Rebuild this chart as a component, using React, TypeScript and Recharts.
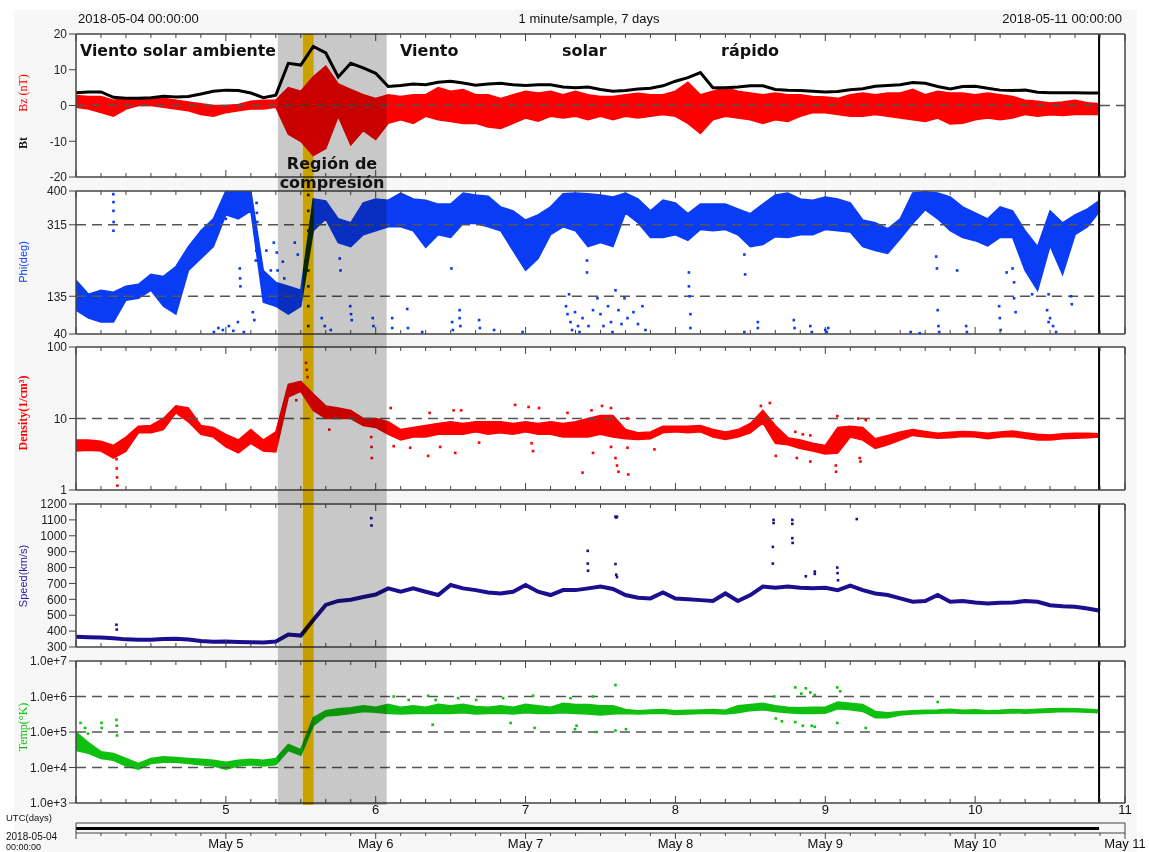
import React from "react";
import {
  Area,
  CartesianGrid,
  ComposedChart,
  Line,
  ReferenceArea,
  ReferenceLine,
  Scatter,
  XAxis,
  YAxis,
} from "recharts";

const SANS = "'Liberation Sans', Arial, sans-serif";
const SERIF = "'Liberation Serif', 'Times New Roman', serif";
const HEAVY = "'DejaVu Sans', sans-serif";
const FRAME = "#444";

const WIDTH = 1149;
const AXIS_W = 76;
const RIGHT_GAP = 24;
const PAD = 8;

// time in days of May 2018, 2-hour bins
const DAY_START = 4;
const DAY_END = 11;
const DATA_END = 10.827;
const BIN = 1 / 12;

// event boundaries
const SHOCK = 5.347;
const CIR_END = 6.073;
const GOLD_START = 5.513;
const GOLD_END = 5.587;

const btValues = [
  3.6, 3.8, 3.8, 2.3, 2.0, 2.0, 2.2, 2.6, 2.4, 2.5,
  3.2, 4.0, 4.3, 4.2, 3.5, 2.2, 2.9, 11.8, 11.3, 16.5,
  14.7, 8, 11.8, 10.5, 9, 5.3, 5.6, 6, 5.8, 6.5,
  6.8, 6.3, 5.7, 6, 6.2, 5.8, 5.6, 5.8, 5.8, 5.2,
  5.0, 5.2, 4.5, 4.0, 4.2, 4.6, 4.8, 5.5, 6.8, 7.8,
  9.2, 5.0, 5.0, 5.2, 5.5, 5.5, 4.5, 4.3, 4.2, 4.0,
  3.8, 3.9, 4.4, 4.7, 5.4, 5.6, 5.8, 6.4, 6.2, 5.3,
  4.6, 5.3, 5.4, 4.8, 4.3, 4.2, 4.3, 3.7, 3.6, 3.6,
  3.6, 3.5, 3.5,
];

const bzLow = [
  -0.5, -1, -2, -3, -1, 0, 0, -0.5, -1, -1.5,
  -2.5, -3, -2, -1.5, -1, -1, -0.5, -8, -10, -14,
  -12, -3, -11, -7, -9.5, -5, -4, -5, -3, -4,
  -4.5, -5, -5, -6, -6.4, -5, -3.5, -4.4, -3, -3.5,
  -3, -4, -3, -4, -3, -3.5, -3, -2.5, -3, -5,
  -7.8, -4, -3, -3.5, -4, -5, -4, -4.5, -3, -2,
  -2, -2.5, -3, -3, -2.5, -3, -3.5, -4, -4.5, -3.5,
  -5.2, -5, -4, -3.5, -4, -3.5, -2.5, -3, -2.6, -2.8,
  -2.5, -2.5, -2.5,
];

const bzHigh = [
  2.8, 2.5, 2.5, 1.5, 2, 2, 2, 2, 1.5, 1,
  0.5, 0, 0, 0.3, 1.2, 1.5, 1.5, 5, 4, 8,
  11, 6, 4.5, 3, 2, 3, 2.5, 3, 3, 5,
  4, 4.5, 3, 3, 2, 3, 4, 3.5, 4, 3,
  4, 3, 2.5, 2.5, 3, 3.4, 3, 3, 4, 6.5,
  3, 4, 5, 4, 3.5, 3, 3.5, 3, 3, 2.5,
  2.4, 2, 3, 3.5, 3, 3.5, 3.5, 4.5, 3, 4,
  3.5, 3.5, 3, 3.5, 3, 2.5, 1.5, 1.2, 0.7, 1,
  1.5, 0.8, 0.5,
];

const phiLow = [
  100, 80, 70, 70, 125, 130, 150, 110, 90, 200,
  230, 260, 340, 330, 350, 120, 110, 90, 110, 300,
  330, 270, 260, 290, 300, 310, 310, 300, 258, 290,
  283, 318, 318, 310, 300, 250, 200, 230, 290, 310,
  300, 260, 270, 260, 345, 320, 283, 283, 290, 276,
  303, 300, 303, 290, 260, 265, 285, 283, 290, 290,
  303, 300, 297, 260, 250, 243, 280, 318, 353, 330,
  300, 283, 275, 262, 283, 283, 200, 150, 262, 190,
  290, 310, 350,
];

const phiHigh = [
  175, 140, 150, 145, 160, 165, 190, 185, 210, 260,
  300, 330, 400, 400, 400, 200, 170, 160, 150, 380,
  375, 330, 320, 370, 380, 377, 395, 380, 377, 367,
  367, 395, 390, 387, 360, 350, 327, 340, 360, 393,
  395, 393, 390, 385, 395, 380, 350, 377, 370, 343,
  367, 367, 367, 355, 343, 367, 390, 395, 380, 377,
  385, 380, 370, 327, 320, 305, 330, 395, 398, 395,
  385, 360, 345, 330, 360, 350, 300, 260, 350, 320,
  340, 355, 377,
];

const densLow = [
  3.5, 3.6, 3.5, 2.8, 3.5, 6.3, 6.3, 7, 12, 9,
  6, 5.5, 4, 3.3, 4.5, 3.5, 3.4, 20, 24, 13,
  10, 10, 10, 8, 7.5, 6, 5, 5.5, 5.5, 6,
  6, 6, 6.5, 6, 6.3, 6, 6.5, 6, 6, 5.5,
  5.5, 5.5, 6, 5.5, 5.2, 5.1, 5.2, 6.3, 6.5, 6.3,
  6.5, 5.5, 5.1, 5.5, 6.3, 8.7, 4.5, 4.3, 3.8, 3.5,
  3.2, 3.3, 5.5, 5, 3.8, 4.3, 5, 5.8, 5.5, 5.3,
  5.4, 5.6, 5.5, 5.2, 5.5, 5.6, 5.3, 5, 5, 5.2,
  5.3, 5.4, 5.5,
];

const densHigh = [
  5, 5, 4.8, 4.2, 5.5, 7.8, 8, 10, 15, 14,
  8, 7.5, 6, 5, 7, 5, 6.5, 30, 33, 22,
  15, 14, 13, 10, 10, 9, 7, 7.5, 8, 8.5,
  9, 8.5, 9, 9, 9, 8.5, 9, 8.5, 9, 8.5,
  9, 10, 11, 11, 7, 6.3, 6.5, 7.8, 7.8, 7.8,
  8, 7, 6.5, 7, 8.5, 13, 8, 5.4, 5, 4.5,
  4.2, 7.5, 7.8, 7.5, 5.2, 5.8, 6.5, 7, 6.6, 6.2,
  6.4, 6.6, 6.5, 6.2, 6.5, 6.7, 6.3, 6, 5.9, 6.1,
  6.2, 6.2, 6.1,
];

const speedValues = [
  365, 362, 360, 355, 348, 345, 345, 350, 352, 347,
  338, 333, 335, 332, 330, 328, 335, 378, 372, 470,
  565, 590, 598, 615, 630, 669, 648, 669, 648, 627,
  690, 669, 658, 643, 637, 648, 690, 648, 627, 658,
  658, 669, 680, 665, 627, 610, 606, 643, 605, 601,
  595, 589, 637, 589, 627, 680, 673, 680, 673, 669,
  673, 658, 686, 658, 637, 627, 606, 585, 589, 627,
  585, 589, 580, 574, 578, 580, 589, 585, 563, 557,
  553, 542, 528,
];

const tempLow = [
  3e4, 2.5e4, 1.8e4, 1.6e4, 1.1e4, 9e3, 1.3e4, 1.4e4, 1.4e4, 1.3e4,
  1.2e4, 1.1e4, 9e3, 1.1e4, 1.2e4, 1.1e4, 1.2e4, 3e4, 2.2e4, 1.5e5,
  2.8e5, 3e5, 3.3e5, 3.8e5, 3.6e5, 3.3e5, 3.2e5, 3.3e5, 3.3e5, 3.4e5,
  3.3e5, 3.5e5, 3.2e5, 3.3e5, 3.4e5, 3.2e5, 3.5e5, 3.3e5, 3.3e5, 3.5e5,
  3.3e5, 3.2e5, 3e5, 3.2e5, 3.3e5, 3.2e5, 3.3e5, 3.4e5, 3.1e5, 3.2e5,
  3.3e5, 3.3e5, 3.2e5, 3.5e5, 4e5, 4.2e5, 3.8e5, 3.5e5, 3.3e5, 3.3e5,
  3.4e5, 4.5e5, 4.2e5, 3.8e5, 2.5e5, 2.5e5, 3e5, 3.2e5, 3.3e5, 3.4e5,
  3.5e5, 3.3e5, 3.4e5, 3.3e5, 3.3e5, 3.5e5, 3.4e5, 3.5e5, 3.6e5, 3.8e5,
  3.7e5, 3.6e5, 3.5e5,
];

const tempHigh = [
  1e5, 5e4, 2.8e4, 2.5e4, 1.8e4, 1.3e4, 1.8e4, 2e4, 1.9e4, 1.8e4,
  1.7e4, 1.6e4, 1.4e4, 1.6e4, 1.7e4, 1.6e4, 1.8e4, 4.5e4, 3.2e4, 2.5e5,
  4e5, 4.5e5, 4.8e5, 5.5e5, 5e5, 6e5, 5e5, 5.5e5, 5e5, 6e5,
  5.5e5, 6e5, 5.2e5, 5e5, 5.5e5, 5e5, 6e5, 5.5e5, 5e5, 6.5e5,
  6e5, 6e5, 5.5e5, 5.5e5, 4.3e5, 4e5, 4.2e5, 4.3e5, 4e5, 4.1e5,
  4.2e5, 4.3e5, 4.1e5, 5.5e5, 6e5, 6.5e5, 5.5e5, 5e5, 4.8e5, 5e5,
  5e5, 7e5, 6.5e5, 6e5, 3.8e5, 3.5e5, 3.8e5, 4e5, 4.1e5, 4.2e5,
  4.4e5, 4.1e5, 4.2e5, 4e5, 4.1e5, 4.3e5, 4.2e5, 4.4e5, 4.5e5, 4.6e5,
  4.5e5, 4.4e5, 4.2e5,
];

// isolated samples away from the main trace: [day, value]
const phiStray = [
  [4.249, 392], [4.25, 372], [4.25, 350], [4.251, 322], [4.25, 300],
  [4.92, 45], [4.95, 55], [4.98, 50], [5.0, 330], [5.02, 60], [5.05, 48], [5.08, 70],
  [5.093, 205], [5.095, 180], [5.097, 160], [5.12, 45], [5.18, 95], [5.19, 75],
  [5.2, 280], [5.203, 250], [5.2, 225], [5.205, 370], [5.207, 345], [5.21, 322],
  [5.27, 250], [5.3, 200], [5.32, 270],
  [5.34, 245], [5.345, 200], [5.38, 222], [5.39, 180], [5.46, 270], [5.48, 240],
  [5.55, 390], [5.55, 350], [5.55, 300], [5.55, 250], [5.55, 200], [5.55, 160], [5.55, 110], [5.55, 60],
  [5.64, 80], [5.66, 60], [5.7, 50], [5.76, 230], [5.765, 200], [5.83, 110], [5.835, 90], [5.84, 75],
  [5.98, 80], [5.985, 60],
  [6.11, 80], [6.11, 55], [6.21, 103], [6.215, 55], [6.31, 45], [6.505, 205], [6.51, 70], [6.515, 50],
  [6.56, 100], [6.56, 80], [6.565, 60], [6.69, 75], [6.695, 55], [6.79, 50], [6.98, 45],
  [7.27, 110], [7.28, 90], [7.29, 140], [7.3, 70], [7.31, 50], [7.33, 95], [7.35, 60], [7.36, 45],
  [7.38, 80], [7.41, 225], [7.41, 195], [7.42, 60], [7.45, 100],
  [7.48, 130], [7.5, 90], [7.52, 60], [7.55, 110], [7.57, 70], [7.58, 45], [7.6, 150], [7.62, 100],
  [7.64, 65], [7.66, 130], [7.68, 80], [7.72, 95], [7.75, 65], [7.78, 110], [7.8, 50],
  [8.09, 195], [8.09, 160], [8.095, 135], [8.1, 90], [8.1, 55], [8.46, 240], [8.465, 190], [8.46, 45],
  [8.55, 70], [8.55, 55], [8.79, 75], [8.795, 55], [8.9, 60], [8.91, 45], [9.0, 50], [9.01, 45], [9.02, 55],
  [9.57, 45], [9.63, 42], [9.74, 235], [9.745, 205], [9.75, 100], [9.755, 60], [9.76, 45], [9.88, 200],
  [9.94, 60], [9.945, 45], [10.16, 110], [10.165, 80], [10.17, 50], [10.21, 195], [10.25, 205],
  [10.26, 170], [10.26, 130], [10.27, 95], [10.38, 140], [10.48, 100], [10.49, 70], [10.49, 140],
  [10.5, 80], [10.52, 60], [10.54, 45], [10.64, 135], [10.645, 115],
];

const densStray = [
  [4.27, 2.7], [4.272, 2], [4.274, 1.5], [4.276, 1.15], [5.47, 18], [5.535, 60], [5.54, 48], [5.545, 38],
  [5.69, 7], [5.97, 5.5], [5.972, 4], [5.974, 2.8],
  [6.1, 14], [6.12, 4.1], [6.23, 3.9], [6.35, 3], [6.36, 12], [6.43, 4], [6.52, 13], [6.53, 3.3],
  [6.57, 13], [6.69, 4.6], [6.93, 15.5], [7.02, 14.5], [7.04, 4.5], [7.05, 3.5], [7.09, 14], [7.28, 12],
  [7.38, 1.75], [7.44, 13], [7.45, 3.3], [7.51, 15], [7.57, 14], [7.57, 4], [7.6, 2.8], [7.61, 2.2],
  [7.62, 1.8], [7.68, 10], [7.68, 3.9], [7.685, 1.65], [7.86, 3.7],
  [8.57, 15], [8.63, 16.5], [8.67, 3], [8.8, 6.5], [8.81, 2.8], [8.85, 6], [8.9, 5.8], [8.9, 2.5],
  [9.07, 2.2], [9.072, 1.8], [9.08, 10.8], [9.22, 10], [9.23, 2.8], [9.235, 2.5], [9.27, 9.5],
];

const speedStray = [
  [4.27, 440], [4.272, 410], [5.97, 1111], [5.972, 1065], [7.415, 905], [7.415, 825], [7.417, 780],
  [7.6, 1120], [7.605, 1115], [7.61, 1120], [7.6, 822], [7.605, 755], [7.61, 740],
  [8.655, 1100], [8.655, 1080], [8.65, 930], [8.65, 825], [8.78, 1100], [8.78, 1075], [8.78, 985],
  [8.782, 955], [8.87, 745], [8.93, 775], [8.93, 760], [9.08, 800], [9.082, 765], [9.085, 720], [9.21, 1105],
];

const tempStray = [
  [4.03, 1.8e5], [4.06, 1.3e5], [4.08, 9e4], [4.17, 1.8e5], [4.172, 1.3e5], [4.27, 2.2e5], [4.272, 1.5e5],
  [4.274, 8e4], [6.12, 1.0e6], [6.22, 8e5], [6.35, 1.05e6], [6.38, 1.6e5], [6.4, 8e5], [6.55, 9e5],
  [6.67, 8e5], [6.85, 9e5], [6.9, 1.8e5], [7.05, 1.05e6], [7.06, 1.3e5], [7.3, 9e5], [7.33, 1.2e5],
  [7.34, 1.5e5], [7.45, 1.0e6], [7.47, 1.0e5], [7.6, 2.1e6], [7.6, 1.1e5], [7.67, 1.2e5],
  [8.66, 1.0e6], [8.67, 2.4e5], [8.71, 2e5], [8.8, 1.8e6], [8.8, 1.9e5], [8.84, 1.2e6], [8.85, 1.5e5],
  [8.87, 1.7e6], [8.9, 1.3e6], [8.91, 1.5e5], [8.93, 1.1e6], [8.93, 1.4e5], [9.08, 1.8e6], [9.08, 1.8e5],
  [9.1, 1.4e6], [9.27, 1.3e5], [9.75, 7e5],
];

const bzTicks = [-20, -10, 0, 10, 20];
const phiTicks = [40, 135, 315, 400];
const densTicks = [1, 10, 100];
const speedTicks = [300, 400, 500, 600, 700, 800, 900, 1000, 1100, 1200];
const tempTicks = [1e3, 1e4, 1e5, 1e6, 1e7];
const dayLabels = [5, 6, 7, 8, 9, 10, 11];

const rows = btValues.map((bt, i) => ({
  t: DAY_START + i * BIN,
  bt,
  bz: [bzLow[i], bzHigh[i]],
  phi: [phiLow[i], phiHigh[i]],
  dens: [densLow[i], densHigh[i]],
  speed: speedValues[i],
  temp: [tempLow[i], tempHigh[i]],
}));

const pts = (list: number[][]) => list.map(([t, v]) => ({ t, v }));

// 4-hour tick marks along the time axis
const timeTicks = Array.from({ length: 43 }, (_, i) => DAY_START + i / 6);

const logMinor = (from: number, to: number) => {
  const out: number[] = [];
  for (let d = from; d < to; d++) for (let k = 2; k <= 9; k++) out.push(k * 10 ** d);
  return out;
};

const isWholeDay = (v: number) => Math.abs(v - Math.round(v)) < 1e-6;

function TimeTick(props: any) {
  const { x, y, payload, dir } = props;
  const len = isWholeDay(payload.value) ? 7 : 4;
  return <line x1={x} x2={x} y1={y} y2={y + dir * len} stroke={FRAME} strokeWidth={1} />;
}

function DateTick(props: any) {
  const { x, y, payload } = props;
  const major = isWholeDay(payload.value);
  const day = Math.round(payload.value);
  return (
    <g>
      <line x1={x} x2={x} y1={y} y2={y + (major ? 6 : 3)} stroke={FRAME} strokeWidth={1} />
      {major && day > DAY_START && (
        <text x={x} y={y + 15} textAnchor="middle" fontSize={13} fontFamily={SANS} fill="#111">
          {`May ${day}`}
        </text>
      )}
    </g>
  );
}

const axisLine = { stroke: FRAME, strokeWidth: 1.5 };
const tickText = { fontSize: 12, fill: "#222", fontFamily: SANS };
const dashed = { stroke: "#555", strokeDasharray: "10 6", strokeWidth: 1.3 };

const dot = (color: string, size = 2.6) => (p: any) => (
  <rect x={p.cx - size / 2} y={p.cy - size / 2} width={size} height={size} fill={color} />
);

function Panel({ top, height, children }: { top: number; height: number; children: React.ReactNode }) {
  return (
    <div style={{ position: "absolute", left: 0, top: top - PAD }}>
      <ComposedChart
        width={WIDTH}
        height={height + 2 * PAD}
        data={rows}
        margin={{ top: PAD, right: RIGHT_GAP, bottom: PAD, left: 0 }}
      >
        <CartesianGrid fill="#fff" horizontal={false} vertical={false} />
        <XAxis
          dataKey="t"
          type="number"
          domain={[DAY_START, DAY_END]}
          allowDataOverflow
          ticks={timeTicks}
          interval={0}
          orientation="bottom"
          mirror
          height={1}
          tickSize={0}
          tickMargin={0}
          tickLine={false}
          axisLine={axisLine}
          tick={(p: any) => <TimeTick {...p} dir={-1} />}
        />
        <XAxis
          xAxisId="top"
          dataKey="t"
          type="number"
          domain={[DAY_START, DAY_END]}
          allowDataOverflow
          ticks={timeTicks}
          interval={0}
          orientation="top"
          mirror
          height={1}
          tickSize={0}
          tickMargin={0}
          tickLine={false}
          axisLine={axisLine}
          tick={(p: any) => <TimeTick {...p} dir={1} />}
        />
        {children}
        <ReferenceLine x={DATA_END} stroke="#000" strokeWidth={2} />
      </ComposedChart>
    </div>
  );
}

export default function App() {
  return (
    <div
      style={{
        position: "absolute",
        left: 0,
        top: 0,
        width: WIDTH,
        height: 852,
        background: "#fff",
        overflow: "hidden",
      }}
    >
      <div style={{ position: "absolute", left: 14, top: 10, width: 1123, height: 842, background: "#f7f7f7" }} />

      {/* Bz / Bt */}
      <Panel top={34} height={143}>
        <YAxis domain={[-20, 20]} ticks={bzTicks} interval={0} width={AXIS_W} tick={tickText} tickSize={7} tickMargin={2} tickLine={{ stroke: FRAME }} axisLine={axisLine} allowDataOverflow />
        <YAxis yAxisId="r" orientation="right" mirror width={1} domain={[-20, 20]} allowDataOverflow ticks={[-10, 10]} interval={0} tick={false} tickSize={12} tickLine={{ stroke: FRAME }} axisLine={axisLine} />
        <ReferenceLine y={0} {...dashed} />
        <Area dataKey="bz" type="linear" stroke="#ff0000" strokeWidth={1.5} fill="#ff0000" fillOpacity={1} isAnimationActive={false} />
        <Line dataKey="bt" type="linear" stroke="#000" strokeWidth={3} dot={false} isAnimationActive={false} />
      </Panel>

      {/* Phi */}
      <Panel top={191} height={143}>
        <YAxis domain={[40, 400]} ticks={phiTicks} interval={0} width={AXIS_W} tick={tickText} tickSize={7} tickMargin={2} tickLine={{ stroke: FRAME }} axisLine={axisLine} allowDataOverflow />
        <YAxis yAxisId="r" orientation="right" mirror width={1} domain={[40, 400]} allowDataOverflow ticks={[400]} tick={false} tickLine={false} axisLine={axisLine} />
        <ReferenceLine y={315} {...dashed} />
        <ReferenceLine y={135} {...dashed} />
        <Area dataKey="phi" type="linear" stroke="#0a3cf5" strokeWidth={1.5} fill="#0a3cf5" fillOpacity={1} isAnimationActive={false} />
        <Scatter data={pts(phiStray)} dataKey="v" shape={dot("#0a3cf5")} isAnimationActive={false} />
      </Panel>

      {/* Density */}
      <Panel top={347} height={143}>
        <YAxis scale="log" domain={[1, 100]} ticks={densTicks} interval={0} width={AXIS_W} tick={tickText} tickSize={7} tickMargin={2} tickLine={{ stroke: FRAME }} axisLine={axisLine} allowDataOverflow />
        <YAxis yAxisId="lm" orientation="left" mirror width={1} scale="log" domain={[1, 100]} allowDataOverflow ticks={logMinor(0, 2)} interval={0} tick={false} tickSize={9} tickLine={{ stroke: FRAME }} axisLine={false} />
        <YAxis yAxisId="r" orientation="right" mirror width={1} scale="log" domain={[1, 100]} allowDataOverflow ticks={logMinor(0, 2)} interval={0} tick={false} tickSize={11} tickLine={{ stroke: FRAME }} axisLine={axisLine} />
        <ReferenceLine y={10} {...dashed} />
        <Area dataKey="dens" type="linear" stroke="#ff0000" strokeWidth={1.5} fill="#ff0000" fillOpacity={1} isAnimationActive={false} />
        <Scatter data={pts(densStray)} dataKey="v" shape={dot("#ff0000")} isAnimationActive={false} />
      </Panel>

      {/* Speed */}
      <Panel top={504} height={143}>
        <YAxis domain={[300, 1200]} ticks={speedTicks} interval={0} width={AXIS_W} tick={tickText} tickSize={7} tickMargin={2} tickLine={{ stroke: FRAME }} axisLine={axisLine} allowDataOverflow />
        <YAxis yAxisId="r" orientation="right" mirror width={1} domain={[300, 1200]} allowDataOverflow ticks={speedTicks} interval={0} tick={false} tickSize={12} tickLine={{ stroke: FRAME }} axisLine={axisLine} />
        <Line dataKey="speed" type="linear" stroke="#1c0f8f" strokeWidth={4} dot={false} isAnimationActive={false} />
        <Scatter data={pts(speedStray)} dataKey="v" shape={dot("#1c0f8f")} isAnimationActive={false} />
      </Panel>

      {/* Temperature */}
      <Panel top={661} height={142}>
        <YAxis
          scale="log"
          domain={[1e3, 1e7]}
          ticks={tempTicks}
          interval={0}
          width={AXIS_W}
          tick={tickText}
          tickFormatter={(v: number) => `1.0e+${Math.round(Math.log10(v))}`}
          tickSize={7}
          tickMargin={2}
          tickLine={{ stroke: FRAME }}
          axisLine={axisLine}
          allowDataOverflow
        />
        <YAxis yAxisId="lm" orientation="left" mirror width={1} scale="log" domain={[1e3, 1e7]} allowDataOverflow ticks={logMinor(3, 7)} interval={0} tick={false} tickSize={9} tickLine={{ stroke: FRAME }} axisLine={false} />
        <YAxis yAxisId="r" orientation="right" mirror width={1} scale="log" domain={[1e3, 1e7]} allowDataOverflow ticks={logMinor(3, 7)} interval={0} tick={false} tickSize={11} tickLine={{ stroke: FRAME }} axisLine={axisLine} />
        <ReferenceLine y={1e4} {...dashed} />
        <ReferenceLine y={1e5} {...dashed} />
        <ReferenceLine y={1e6} {...dashed} />
        <Area dataKey="temp" type="linear" stroke="#10c010" strokeWidth={1.5} fill="#10c010" fillOpacity={1} isAnimationActive={false} />
        <Scatter data={pts(tempStray)} dataKey="v" shape={dot("#10c010")} isAnimationActive={false} />
      </Panel>

      {/* day numbers and calendar strip */}
      <div style={{ position: "absolute", left: 0, top: 803 }}>
        <ComposedChart width={WIDTH} height={49} data={rows} margin={{ top: 0, right: RIGHT_GAP, bottom: 0, left: AXIS_W }}>
          <XAxis
            xAxisId="days"
            dataKey="t"
            type="number"
            orientation="top"
            domain={[DAY_START, DAY_END]}
            allowDataOverflow
            ticks={dayLabels}
            interval={0}
            height={20}
            tickLine={false}
            tickMargin={3}
            axisLine={{ stroke: FRAME, strokeWidth: 1 }}
            tick={{ fontSize: 13, fill: "#111", fontFamily: SANS }}
          />
          <XAxis
            xAxisId="date"
            dataKey="t"
            type="number"
            orientation="bottom"
            domain={[DAY_START, DAY_END]}
            allowDataOverflow
            ticks={timeTicks}
            interval={0}
            height={19}
            tickSize={0}
            tickMargin={0}
            tickLine={false}
            axisLine={{ stroke: FRAME, strokeWidth: 1 }}
            tick={(p: any) => <DateTick {...p} />}
          />
          <YAxis yAxisId="box" mirror width={1} domain={[0, 1]} allowDataOverflow ticks={[0]} tick={false} tickLine={false} axisLine={{ stroke: FRAME, strokeWidth: 1 }} />
          <YAxis yAxisId="box2" orientation="right" mirror width={1} domain={[0, 1]} allowDataOverflow ticks={[0]} tick={false} tickLine={false} axisLine={{ stroke: FRAME, strokeWidth: 1 }} />
          <ReferenceLine
            xAxisId="date"
            yAxisId="box"
            segment={[{ x: DAY_START, y: 0.45 }, { x: DATA_END, y: 0.45 }]}
            stroke="#000"
            strokeWidth={3}
          />
        </ComposedChart>
      </div>

      {/* compression region and stream interface bands */}
      <div style={{ position: "absolute", left: 0, top: 34, mixBlendMode: "multiply", pointerEvents: "none" }}>
        <ComposedChart width={WIDTH} height={771} data={rows} margin={{ top: 0, right: RIGHT_GAP, bottom: 0, left: AXIS_W }}>
          <XAxis dataKey="t" type="number" domain={[DAY_START, DAY_END]} hide allowDataOverflow />
          <YAxis domain={[0, 1]} hide allowDataOverflow />
          <ReferenceArea x1={SHOCK} x2={GOLD_START} y1={0} y2={1} fill="#c8c8c8" fillOpacity={1} stroke="none" />
          <ReferenceArea x1={GOLD_END} x2={CIR_END} y1={0} y2={1} fill="#c8c8c8" fillOpacity={1} stroke="none" />
          <ReferenceArea x1={GOLD_START} x2={GOLD_END} y1={0} y2={1} fill="#c9a100" fillOpacity={1} stroke="none" />
        </ComposedChart>
      </div>

      <svg width={WIDTH} height={852} style={{ position: "absolute", left: 0, top: 0, pointerEvents: "none" }}>
        <g fontFamily={SANS} fontSize={13} fill="#111">
          <text x={78} y={23}>2018-05-04 00:00:00</text>
          <text x={589} y={23} textAnchor="middle">1 minute/sample, 7 days</text>
          <text x={1122} y={23} textAnchor="end">2018-05-11 00:00:00</text>
        </g>

        <g fontFamily={HEAVY} fontWeight="bold" fontSize={16} fill="#111">
          <text x={80} y={56} textLength={196} lengthAdjust="spacingAndGlyphs">Viento solar ambiente</text>
          <text x={400} y={56}>Viento</text>
          <text x={562} y={56}>solar</text>
          <text x={721} y={56}>rápido</text>
          <text x={332} y={169} textAnchor="middle">Región de</text>
          <text x={332} y={188} textAnchor="middle">compresión</text>
        </g>

        <text transform="translate(27,93) rotate(-90)" textAnchor="middle" fontFamily={SERIF} fontSize={12} fill="#ff0000">Bz (nT)</text>
        <text transform="translate(27,143) rotate(-90)" textAnchor="middle" fontFamily={SERIF} fontWeight="bold" fontSize={12} fill="#111">Bt</text>
        <text transform="translate(27,262) rotate(-90)" textAnchor="middle" fontFamily={SANS} fontSize={11} fill="#0a3cf5">Phi(deg)</text>
        <text transform="translate(27,413) rotate(-90)" textAnchor="middle" fontFamily={SERIF} fontWeight="bold" fontSize={12} fill="#ff0000">Density(1/cm³)</text>
        <text transform="translate(27,576) rotate(-90)" textAnchor="middle" fontFamily={SANS} fontSize={11} fill="#2a1aa0">Speed(km/s)</text>
        <text transform="translate(27,727) rotate(-90)" textAnchor="middle" fontFamily={SERIF} fontSize={12} fill="#10c010">Temp(°K)</text>

        <g fontFamily={SANS} fill="#111">
          <text x={6} y={821} fontSize={9.5}>UTC(days)</text>
          <text x={6} y={840} fontSize={10}>2018-05-04</text>
          <text x={6} y={850} fontSize={9}>00:00:00</text>
        </g>
      </svg>
    </div>
  );
}
